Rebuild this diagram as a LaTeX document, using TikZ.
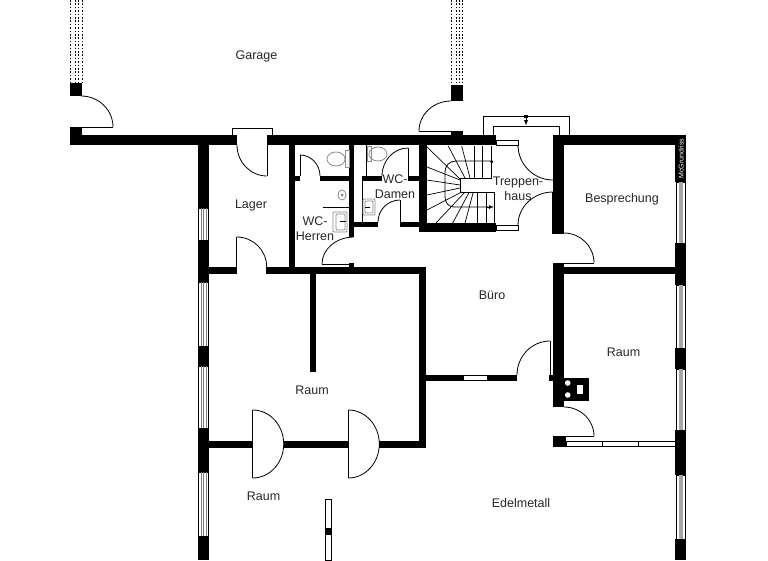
\documentclass[tikz,border=0pt]{standalone}
\usepackage{fontspec}
\setmainfont{Liberation Sans}
\tikzset{
  wallpart/.style={fill=black},
  doorline/.style={draw=black, line width=.8pt},
  thinline/.style={draw=black, line width=.6pt},
  fixture/.style={draw=black!45, line width=.8pt},
  stepline/.style={draw=black, line width=.7pt},
  roomlabel/.style={inner sep=0pt, align=center, font=\fontsize{12.5}{15}\selectfont, text=black!85}
}
\begin{document}
\begin{tikzpicture}[x=1pt,y=-1pt]
  \useasboundingbox (0,0) rectangle (768,560);

  % walls and piers
  \foreach \xa/\ya/\xb/\yb in {
    70/134.5/237/145, 267/134.5/496/145, 553/135/686/145,
    70/83/82/96, 70/127/82/145, 451/85/463/101, 451/131/463/135,
    198/145/209/560, 209/267/237/274, 266/267/426/274,
    289/145/295/267, 295/176/300/181, 320/176/354/181,
    349/145/354/237, 349/263/354/267, 362/176/382/181, 408/176/419/181,
    354/222/378/227, 400/222/419/227,
    419/145/427/232, 419/223/496/232,
    310/274/316/372, 419/274/426/447,
    209/441/253/448, 284/441/348/448, 379/441/426/448,
    426/375/463/381, 487/375/517/381, 549/375/555/381,
    553/145/564/225, 552/225/564/234, 553/263/564/407,
    564/267/676/274, 564/378/589/401, 553/436/566/447,
    675/135/686/182, 675/243/686/285, 675/348/686/369, 675/430/686/475, 675/539/686/560
  }
    \fill[wallpart] (\xa,\ya) rectangle (\xb,\yb);
  \fill[white] (567.7,383) circle (2.8);
  \fill[white] (567.7,395) circle (2.8);
  \fill[white] (577,385) rectangle (583,394);

  % windows
  \foreach \ya/\yb in {208/240,282/346,366/428,472/536} {
    \draw[thinline, fill=white] (198.5,\ya) rectangle (208.5,\yb);
    \foreach \x in {201,203.5,206}
      \draw[black!50, line width=.5pt] (\x,\ya) -- (\x,\yb);
  }
  \foreach \ya/\yb in {182/243,285/348,369/430,475/539} {
    \draw[thinline, fill=white] (676,\ya) rectangle (685.5,\yb);
    \fill[black!35] (679,\ya) rectangle (682.5,\yb);
  }
  \foreach \x in {70,75,78,82}
    \draw[line width=.8pt, dash pattern=on 1.6pt off 1.8pt] (\x,0) -- (\x,83);
  \foreach \x in {451,456,459,462.5}
    \draw[line width=.8pt, dash pattern=on 1.6pt off 1.8pt] (\x,0) -- (\x,85);
  \draw[thinline, fill=white] (463,375.5) rectangle (487,380.5);
  \draw[thinline, fill=white] (566,441.5) rectangle (675,446.5);
  \foreach \x in {602,638}
    \draw[thinline] (\x,441.5) -- (\x,446.5);
  \draw[thinline, fill=white] (325.5,499) rectangle (331,560);
  \fill[wallpart] (325.5,528) rectangle (331,535);
  \draw[thinline, fill=white] (496,140) rectangle (518,145);
  \draw[thinline, fill=white] (496,225) rectangle (518,230);

  % doors
  \draw[doorline] (81,127) -- (113,127);
  \draw[doorline] (81,96) arc (-90:0:32 and 31);
  \draw[doorline] (419,131) -- (451,131);
  \draw[doorline] (451,101) arc (-90:-180:32 and 30);
  \draw[doorline] (232,134.5) -- (232,128) -- (272,128) -- (272,134.5);
  \draw[doorline] (267,134.5) -- (267,176);
  \draw[doorline] (237,145) arc (180:90:30 and 31);
  \draw[doorline] (236.7,267) -- (236.7,237);
  \draw[doorline] (236.7,237) arc (-90:0:30);
  \draw[doorline] (300,176) -- (300,155);
  \draw[doorline] (300,155) arc (-90:0:20 and 21);
  \draw[doorline] (408,176) -- (408,148);
  \draw[doorline] (408,148) arc (-90:-180:26 and 28);
  \draw[doorline] (400,222) -- (400,200);
  \draw[doorline] (400,200) arc (-90:-180:22);
  \draw[doorline] (321.7,264) -- (354,264);
  \draw[doorline] (354,237) arc (-90:-180:32 and 27);
  \draw[doorline] (518,145) arc (180:90:35);
  \draw[doorline] (518,225) arc (180:270:35 and 33);
  \draw[doorline] (552.5,192) -- (552.5,225);
  \draw[doorline] (553,145) -- (553,180);
  \draw[doorline] (564,233) arc (-90:0:30);
  \draw[doorline] (564,263) -- (594,263);
  \draw[doorline] (252.7,410) -- (252.7,478);
  \draw[doorline] (252.7,410) arc (-90:90:31 and 34);
  \draw[doorline] (348.3,410) -- (348.3,478);
  \draw[doorline] (348.3,410) arc (-90:90:31 and 34);
  \draw[doorline] (550,380) -- (550,341);
  \draw[doorline] (550,341) arc (-90:-180:33 and 34);
  \draw[doorline] (564,407) arc (-90:0:30 and 29);
  \draw[doorline] (564,436) -- (594,436);

  % porch
  \draw[doorline] (483,134.5) -- (483,116) -- (569,116) -- (569,135);
  \draw[doorline] (493,134.5) -- (493,126) -- (559,126) -- (559,135);
  \fill[wallpart] (524,114.5) rectangle (528,118);
  \draw[-latex, line width=.9pt] (526,116) -- (526,125.5);

  % stairs
  \draw[doorline] (491.7,146) -- (491.7,178) -- (460,178) -- (460,192) -- (494,192) -- (494,223);
  \draw[doorline] (491.7,161) -- (456,161) .. controls (449,161) and (445,166) .. (445,172)
    -- (445,197) .. controls (445,203) and (449,207) .. (454,207) -- (488,207);
  \fill[wallpart] (491.7,161.7) circle (1.6);
  \draw[-latex, line width=.8pt] (486,207) -- (494,207);
  \foreach \xa/\ya/\xb/\yb in {
    474/146/474/178, 482.7/146/482.7/178,
    461.7/146/470/178, 448.3/146/465/178, 427/147/460/179,
    427/167/460/180, 427/180/460/185, 427/195/460/188,
    427/210/461.7/192, 436/223/465/192, 452.7/223/469.3/192, 465/223/473.3/192,
    477.7/192/477.7/223, 486/192/486/223
  }
    \draw[stepline] (\xa,\ya) -- (\xb,\yb);

  % fittings in the washrooms
  \draw[line width=1.1pt] (323,207.5) -- (349,207.5);
  \draw[thinline] (366,145) -- (366,176);
  \draw[thinline] (362,181) -- (362,222);
  \draw[fixture] (336,159) ellipse (9 and 7);
  \draw[fixture] (345,150) rectangle (349,167);
  \draw[fixture] (378,154) ellipse (9 and 7);
  \draw[fixture] (367,146) rectangle (371,161);
  \draw[fixture] (342,195) ellipse (4 and 5);
  \fill[black!50] (342,195) circle (1.5);
  \draw[fixture, rounded corners=1pt] (333,212) rectangle (347,232);
  \draw[fixture, rounded corners=1pt] (336,214) rectangle (345,230);
  \draw[line width=.8pt] (340,221) -- (346,221);
  \draw[fixture, rounded corners=1pt] (363,199) rectangle (375,215);
  \draw[fixture, rounded corners=1pt] (365,201) rectangle (373,213);
  \draw[line width=.8pt] (365,207) -- (370,207);

  % room labels
  \node[roomlabel] (garage) at (256.5,56.5) {Garage};
  \node[roomlabel] (lager) at (251,205) {Lager};
  \node[roomlabel] (besprechung) at (622,199.5) {Besprechung};
  \node[roomlabel] (buero) at (492,295) {Büro};
  \node[roomlabel] (raumost) at (623.5,352.5) {Raum};
  \node[roomlabel] (raummitte) at (312,390) {Raum};
  \node[roomlabel] (raumwest) at (263.5,496.5) {Raum};
  \node[roomlabel] (edelmetall) at (521,503) {Edelmetall};
  \node[roomlabel] (treppenhaus) at (518,188.5) {Treppen-\\haus};
  \node[roomlabel] (damen) at (395,186.5) {WC-\\Damen};
  \node[roomlabel] (herren) at (315,228.5) {WC-\\Herren};
  \node[inner sep=0pt, rotate=90, text=white, font=\fontsize{7}{8}\selectfont] (mcgrundriss) at (681,158.5) {McGrundriss};
\end{tikzpicture}
\end{document}
